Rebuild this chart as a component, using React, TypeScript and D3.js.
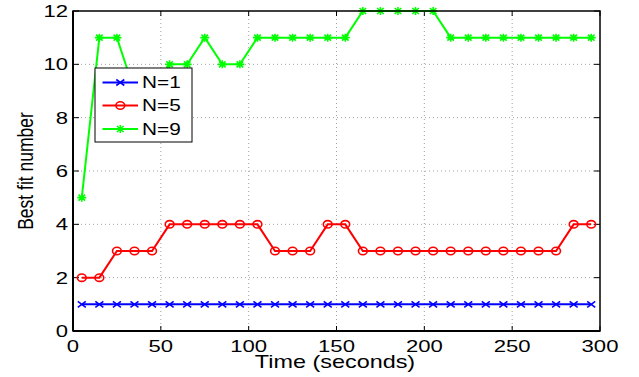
import React from "react";
import * as d3 from "d3";

const timeValues = [5, 15, 25, 35, 45, 55, 65, 75, 85, 95, 105, 115, 125, 135, 145, 155, 165, 175, 185, 195, 205, 215, 225, 235, 245, 255, 265, 275, 285, 295];
const seriesN1 = [1, 1, 1, 1, 1, 1, 1, 1, 1, 1, 1, 1, 1, 1, 1, 1, 1, 1, 1, 1, 1, 1, 1, 1, 1, 1, 1, 1, 1, 1];
const seriesN5 = [2, 2, 3, 3, 3, 4, 4, 4, 4, 4, 4, 3, 3, 3, 4, 4, 3, 3, 3, 3, 3, 3, 3, 3, 3, 3, 3, 3, 4, 4];
const seriesN9 = [5, 11, 11, 9, 9, 10, 10, 11, 10, 10, 11, 11, 11, 11, 11, 11, 12, 12, 12, 12, 12, 11, 11, 11, 11, 11, 11, 11, 11, 11];
const xTicks = [0, 50, 100, 150, 200, 250, 300];
const yTicks = [0, 2, 4, 6, 8, 10, 12];
const legendLabels = ["N=1", "N=5", "N=9"];
const seriesColors = ["#0000ff", "#ff0000", "#00ff00"];

const W = 639;
const H = 377;
const M = { left: 73, right: 600, top: 11, bottom: 331 };
const SX = 1.3;
const FONT = "'Liberation Sans', Arial, Helvetica, sans-serif";

function Marker({ kind, x, y, color }: { kind: number; x: number; y: number; color: string }) {
  if (kind === 0) {
    return (
      <path
        d={`M${x - 4},${y - 3}L${x + 4},${y + 3}M${x - 4},${y + 3}L${x + 4},${y - 3}`}
        stroke={color}
        strokeWidth={1.6}
        fill="none"
      />
    );
  }
  if (kind === 1) {
    return <ellipse cx={x} cy={y} rx={4.4} ry={3.7} stroke={color} strokeWidth={1.6} fill="none" />;
  }
  return (
    <path
      d={`M${x - 4.5},${y}L${x + 4.5},${y}M${x},${y - 4}L${x},${y + 4}M${x - 3.3},${y - 3}L${x + 3.3},${y + 3}M${x - 3.3},${y + 3}L${x + 3.3},${y - 3}`}
      stroke={color}
      strokeWidth={1.6}
      fill="none"
    />
  );
}

function SText({ x, y, size, anchor, children, rotate }: any) {
  const tr = rotate
    ? `translate(${x},${y}) scale(${SX},1) rotate(-90)`
    : `translate(${x},${y}) scale(${SX},1)`;
  return (
    <text transform={tr} fontSize={size} textAnchor={anchor} fontFamily={FONT} fill="#000">
      {children}
    </text>
  );
}

export default function App() {
  const x = d3.scaleLinear().domain([0, 300]).range([M.left, M.right]);
  const y = d3.scaleLinear().domain([0, 12]).range([M.bottom, M.top]);
  const series = [seriesN1, seriesN5, seriesN9];
  const line = d3
    .line<number>()
    .x((_, i) => x(timeValues[i]))
    .y((d) => y(d));

  const legend = { x0: 95, y0: 68, x1: 192, y1: 142 };
  const rowsY = [82.5, 105.5, 129];

  return (
    <svg width={W} height={H} style={{ position: "absolute", left: 0, top: 0, background: "#fff" }}>
      <rect x={0} y={0} width={W} height={H} fill="#fff" />
      {/* grid */}
      {xTicks.slice(1, -1).map((t) => (
        <line key={"gx" + t} x1={x(t)} x2={x(t)} y1={M.top} y2={M.bottom} stroke="#a0a0a0" strokeWidth={1} strokeDasharray="1,3" />
      ))}
      {yTicks.slice(1, -1).map((t) => (
        <line key={"gy" + t} x1={M.left} x2={M.right} y1={y(t)} y2={y(t)} stroke="#a0a0a0" strokeWidth={1} strokeDasharray="1,3" />
      ))}
      {/* ticks */}
      {xTicks.map((t) => (
        <g key={"tx" + t}>
          <line x1={x(t)} x2={x(t)} y1={M.bottom} y2={M.bottom - 5} stroke="#000" />
          <line x1={x(t)} x2={x(t)} y1={M.top} y2={M.top + 5} stroke="#000" />
        </g>
      ))}
      {yTicks.map((t) => (
        <g key={"ty" + t}>
          <line x1={M.left} x2={M.left + 6} y1={y(t)} y2={y(t)} stroke="#000" />
          <line x1={M.right} x2={M.right - 6} y1={y(t)} y2={y(t)} stroke="#000" />
        </g>
      ))}
      {/* series */}
      {series.map((s, si) => (
        <g key={"s" + si}>
          <path d={line(s) || ""} fill="none" stroke={seriesColors[si]} strokeWidth={2} />
          {s.map((v, i) => (
            <Marker key={i} kind={si} x={x(timeValues[i])} y={y(v)} color={seriesColors[si]} />
          ))}
        </g>
      ))}
      {/* axes box */}
      <rect x={M.left} y={M.top} width={M.right - M.left} height={M.bottom - M.top} fill="none" stroke="#000" strokeWidth={1.5} />
      <line x1={M.left} x2={M.left} y1={M.top} y2={M.bottom} stroke="#000" strokeWidth={2} />
      <line x1={M.left} x2={M.right} y1={M.bottom} y2={M.bottom} stroke="#000" strokeWidth={2} />
      {/* tick labels */}
      {xTicks.map((t) => (
        <SText key={"lx" + t} x={x(t)} y={352} size={17} anchor="middle">
          {t}
        </SText>
      ))}
      {yTicks.map((t) => (
        <SText key={"ly" + t} x={68} y={y(t) + 6} size={17} anchor="end">
          {t}
        </SText>
      ))}
      {/* axis titles */}
      <SText x={335} y={368} size={18} anchor="middle">
        Time (seconds)
      </SText>
      <SText x={33} y={171} size={17.5} anchor="middle" rotate>
        Best fit number
      </SText>
      {/* legend */}
      <rect x={legend.x0} y={legend.y0} width={legend.x1 - legend.x0} height={legend.y1 - legend.y0} fill="#fff" stroke="#000" strokeWidth={1} />
      {legendLabels.map((lab, i) => (
        <g key={"lg" + i}>
          <line x1={102.5} x2={138} y1={rowsY[i]} y2={rowsY[i]} stroke={seriesColors[i]} strokeWidth={2} />
          <Marker kind={i} x={120.3} y={rowsY[i]} color={seriesColors[i]} />
          <SText x={142} y={rowsY[i] + 5.5} size={16} anchor="start">
            {lab}
          </SText>
        </g>
      ))}
    </svg>
  );
}
